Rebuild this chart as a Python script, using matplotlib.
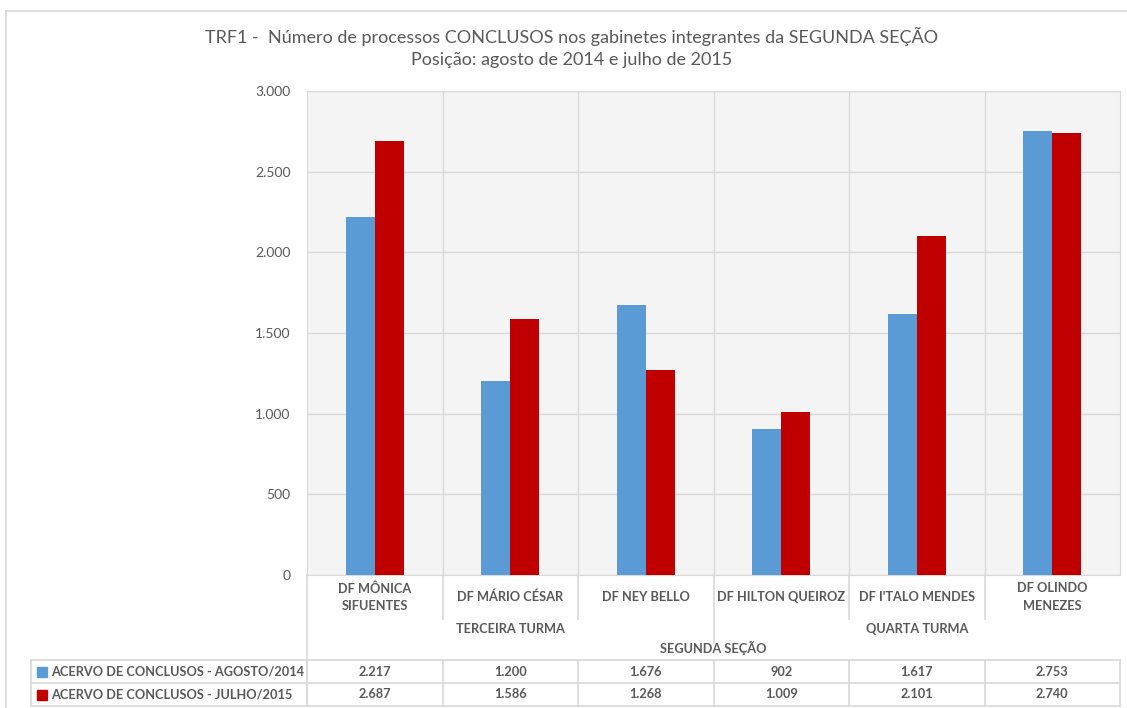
import numpy as np
import matplotlib.pyplot as plt
from matplotlib.patches import Rectangle
from matplotlib.ticker import FuncFormatter

plt.rcParams['font.family'] = ['Lato', 'DejaVu Sans']

# gabinetes da segunda seção
gabinetes = ['DF MÔNICA\nSIFUENTES', 'DF MÁRIO CÉSAR', 'DF NEY BELLO',
             'DF HILTON QUEIROZ', "DF I'TALO MENDES", 'DF OLINDO\nMENEZES']
turmas = ['TERCEIRA TURMA', 'QUARTA TURMA']
secao = 'SEGUNDA SEÇÃO'
serie_nomes = ['ACERVO DE CONCLUSOS - AGOSTO/2014', 'ACERVO DE CONCLUSOS - JULHO/2015']
agosto_2014 = [2217, 1200, 1676, 902, 1617, 2753]
julho_2015 = [2687, 1586, 1268, 1009, 2101, 2740]

azul = '#5b9bd5'
vermelho = '#c00000'
cinza_txt = '#595959'
cinza_lin = '#d9d9d9'

W, H = 1127, 708
fig = plt.figure(figsize=(W / 100, H / 100), dpi=100)

# area do grafico em pixels
L, R, T, B = 307, 1120, 91, 575
ax = fig.add_axes([L / W, 1 - B / H, (R - L) / W, (B - T) / H])
ax.set_facecolor('#f4f4f4')

n = len(gabinetes)
x = np.arange(n)
bw = 0.214
ax.bar(x - bw / 2, agosto_2014, bw, color=azul, zorder=3)
ax.bar(x + bw / 2, julho_2015, bw, color=vermelho, zorder=3)

ax.set_xlim(-0.5, n - 0.5)
ax.set_ylim(0, 3000)
ax.set_yticks(np.arange(0, 3001, 500))
ax.yaxis.set_major_formatter(FuncFormatter(lambda v, p: f'{int(v):,}'.replace(',', '.')))
ax.tick_params(axis='y', length=0, pad=12, labelsize=10, labelcolor=cinza_txt)
ax.set_xticks([])
ax.grid(axis='y', color=cinza_lin, lw=1, zorder=0)
for b in np.arange(0.5, n - 0.5):
    ax.axvline(b, color=cinza_lin, lw=1, zorder=0)
for s in ax.spines.values():
    s.set_color(cinza_lin)

# camada em pixels para a tabela de dados abaixo do grafico
ov = fig.add_axes([0, 0, 1, 1], facecolor='none')
ov.set_xlim(0, W)
ov.set_ylim(H, 0)
ov.axis('off')

def xpix(v):
    return L + (v + 0.5) * (R - L) / n

lc = dict(color=cinza_lin, lw=1.2)
bounds = [xpix(b) for b in np.arange(-0.5, n)]
fs = 9.2

# moldura externa
ov.plot([6, 6], [11, H], **lc)
ov.plot([6, W], [11, 11], **lc)

# rótulos dos gabinetes
for i, g in enumerate(gabinetes):
    ov.text(xpix(i), 597, g, ha='center', va='center', fontsize=fs,
            fontweight='bold', color=cinza_txt, linespacing=1.5)
for b in bounds[1:-1]:
    ov.plot([b, b], [575, 619], **lc)
ov.plot([L, L], [575, 706], **lc)

# turmas
ov.text((bounds[0] + bounds[3]) / 2, 629, turmas[0], ha='center', va='center',
        fontsize=fs, fontweight='bold', color=cinza_txt)
ov.text((bounds[3] + bounds[6]) / 2, 629, turmas[1], ha='center', va='center',
        fontsize=fs, fontweight='bold', color=cinza_txt)
ov.plot([bounds[3], bounds[3]], [619, 643], **lc)
ov.text(bounds[3], 648, secao, ha='center', va='center', fontsize=fs,
        fontweight='bold', color=cinza_txt)

# tabela de valores
rows_y = [660, 683, 706]
for yy in rows_y:
    ov.plot([31, R], [yy, yy], **lc)
for b in [31] + bounds:
    ov.plot([b, b], [660, 706], **lc)

for r, (nome, vals, cor) in enumerate(zip(serie_nomes, [agosto_2014, julho_2015], [azul, vermelho])):
    yc = (rows_y[r] + rows_y[r + 1]) / 2
    ov.add_patch(Rectangle((37, yc - 5), 10, 10, color=cor))
    ov.text(51, yc, nome, ha='left', va='center', fontsize=fs,
            fontweight='bold', color=cinza_txt)
    for i, v in enumerate(vals):
        ov.text(xpix(i), yc, f'{v:,}'.replace(',', '.'), ha='center', va='center',
                fontsize=fs, fontweight='bold', color=cinza_txt)

# título
ov.text(572, 36, 'TRF1 -  Número de processos CONCLUSOS nos gabinetes integrantes da SEGUNDA SEÇÃO',
        ha='center', va='center', fontsize=13, color=cinza_txt)
ov.text(572, 60, 'Posição: agosto de 2014 e julho de 2015',
        ha='center', va='center', fontsize=13, color=cinza_txt)

fig.savefig('out.png', dpi=100)
